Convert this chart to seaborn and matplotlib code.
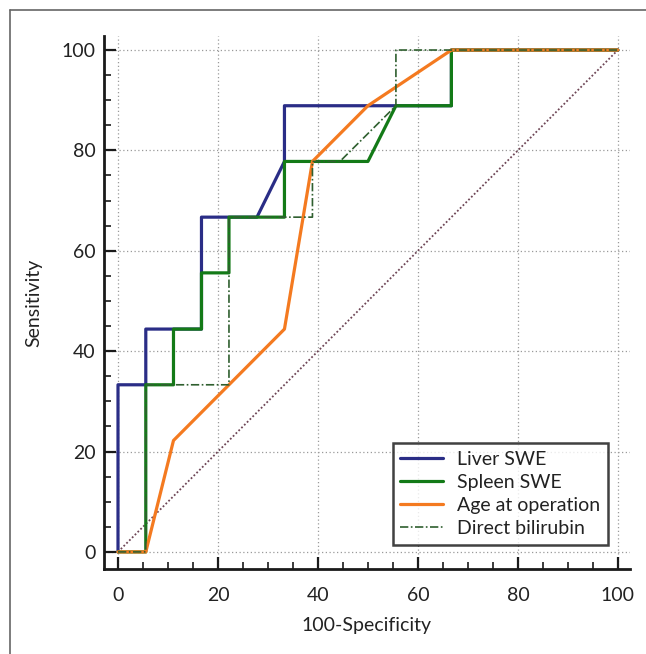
import numpy as np
import pandas as pd
import matplotlib.pyplot as plt
from matplotlib.lines import Line2D
from matplotlib.ticker import MultipleLocator
import seaborn as sns


# ROC curve points (100-Specificity, Sensitivity)
liver_x = [0, 0, 5.56, 5.56, 16.7, 16.7, 27.8, 33.3, 33.3, 55.6, 66.7, 66.7, 100]
liver_y = [0, 33.3, 33.3, 44.4, 44.4, 66.7, 66.7, 77.8, 88.9, 88.9, 88.9, 100, 100]

spleen_x = [0, 5.56, 5.56, 11.1, 11.1, 16.7, 16.7, 22.2, 22.2, 33.3, 33.3, 50.0, 55.6, 66.7, 66.7, 100]
spleen_y = [0, 0, 33.3, 33.3, 44.4, 44.4, 55.6, 55.6, 66.7, 66.7, 77.8, 77.8, 88.9, 88.9, 100, 100]

age_x = [0, 5.56, 11.1, 33.3, 38.9, 50.0, 66.7, 100]
age_y = [0, 0, 22.2, 44.4, 77.8, 88.9, 100, 100]

bili_x = [0, 5.56, 5.56, 22.2, 22.2, 38.9, 38.9, 44.4, 55.6, 55.6, 100]
bili_y = [0, 0, 33.3, 33.3, 66.7, 66.7, 77.8, 77.8, 88.9, 100, 100]

diag = [0, 100]

labels = ["Liver SWE", "Spleen SWE", "Age at operation", "Direct bilirubin"]
colors = ["#2a2d86", "#137a17", "#f47a20", "#2f5f2f"]


sns.set_style("white")
plt.rcParams["font.family"] = ["Lato", "DejaVu Sans"]

fig = plt.figure(figsize=(6.46, 6.54), dpi=100)
ax = fig.add_axes([0.161, 0.130, 0.814, 0.815])

# reference diagonal
sns.lineplot(x=diag, y=diag, ax=ax, color="#6e4656", lw=1.3,
             linestyle=(0, (1, 1.2)), sort=False, estimator=None, zorder=2)

series = [(liver_x, liver_y), (spleen_x, spleen_y), (age_x, age_y), (bili_x, bili_y)]
for i, (xs, ys) in enumerate(series):
    df = pd.DataFrame({"x": xs, "y": ys})
    style = dict(lw=2.3, linestyle="-")
    if i == 3:
        style = dict(lw=1.2, linestyle=(0, (5, 1.5, 1, 1.5)))
    sns.lineplot(data=df, x="x", y="y", ax=ax, color=colors[i], label=labels[i],
                 sort=False, estimator=None, zorder=3 + i, **style)

ax.set_xlim(-2.8, 102.4)
ax.set_ylim(-3.4, 102.8)
ax.set_xticks(np.arange(0, 101, 20))
ax.set_yticks(np.arange(0, 101, 20))
ax.xaxis.set_minor_locator(MultipleLocator(5))
ax.yaxis.set_minor_locator(MultipleLocator(5))

ax.grid(True, which="major", color="#9a9a9a", linestyle=(0, (1, 2)), lw=0.9)
ax.grid(False, which="minor")
for s in ["top", "right"]:
    ax.spines[s].set_visible(False)
for s in ["left", "bottom"]:
    ax.spines[s].set_linewidth(2.0)
    ax.spines[s].set_color("#1a1a1a")

ax.tick_params(axis="both", which="both", bottom=True, left=True, top=False, right=False)
ax.tick_params(axis="both", which="major", direction="in", length=8.5, width=1.6,
               color="#1a1a1a", labelsize=14, labelcolor="#222222")
ax.tick_params(axis="both", which="minor", direction="in", length=5, width=1.2,
               color="#1a1a1a")
ax.tick_params(axis="x", which="major", pad=13)
ax.tick_params(axis="y", which="major", pad=6)

ax.set_xlabel("100-Specificity", fontsize=14, color="#222222", labelpad=9)
ax.set_ylabel("Sensitivity", fontsize=14, color="#222222", labelpad=14)

leg = ax.legend(loc="lower right", bbox_to_anchor=(0.958, 0.045), borderaxespad=0,
                fontsize=14, frameon=True, fancybox=False, handlelength=2.2,
                handletextpad=0.7, labelspacing=0.32, borderpad=0.4)
leg.get_frame().set_edgecolor("#111111")
leg.get_frame().set_linewidth(1.8)
for t in leg.get_texts():
    t.set_color("#222222")

# outer frame (top and left edges only visible)
fig.add_artist(Line2D([10 / 646, 10 / 646], [0, 1 - 10 / 654], transform=fig.transFigure,
                      color="#666666", lw=1.2))
fig.add_artist(Line2D([10 / 646, 1], [1 - 10 / 654, 1 - 10 / 654], transform=fig.transFigure,
                      color="#666666", lw=1.2))

plt.savefig("out.png", dpi=100)
